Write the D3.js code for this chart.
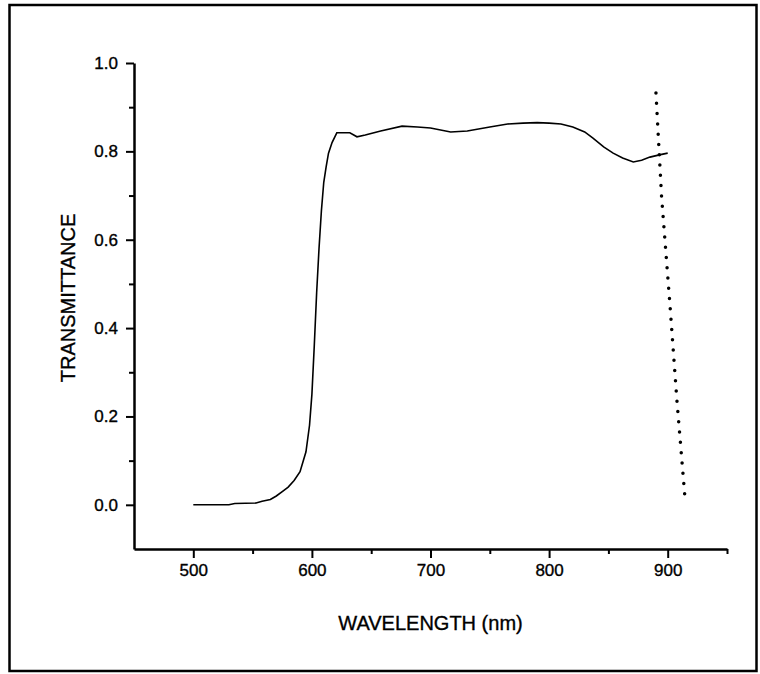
<!DOCTYPE html>
<html>
<head>
<meta charset="utf-8">
<script src="https://cdn.jsdelivr.net/npm/d3@7"></script>
<style>
  body { margin: 0; background: #fff; }
  svg text { font-family: "Liberation Sans", Arial, sans-serif; fill: #000; stroke: #000; stroke-width: 0.35; }
  .axis path, .axis line { stroke: #000; }
</style>
</head>
<body>
<div id="chart"></div>
<script>
// measured transmittance (solid)
const wavelength = [500, 530, 535, 553, 558, 565, 570, 575, 580, 585, 590, 595, 598, 600, 602, 604, 606, 608, 610, 612, 614, 617, 621, 632, 638, 645, 658, 676, 689, 700, 717, 731, 750, 765, 778, 790, 800, 810, 820, 830, 837, 846, 854, 862, 871, 878, 885, 893, 900];
const transmittance = [0.000, 0.000, 0.003, 0.004, 0.008, 0.012, 0.020, 0.030, 0.040, 0.055, 0.075, 0.120, 0.180, 0.250, 0.360, 0.480, 0.580, 0.665, 0.730, 0.765, 0.796, 0.820, 0.842, 0.842, 0.833, 0.837, 0.846, 0.857, 0.855, 0.853, 0.844, 0.846, 0.855, 0.862, 0.864, 0.865, 0.864, 0.862, 0.855, 0.844, 0.830, 0.810, 0.796, 0.785, 0.776, 0.780, 0.787, 0.792, 0.796];

// dotted trace
const dotWavelength = [890.1, 894.8, 902.1, 907.8, 915.0];
const dotValue = [0.932, 0.699, 0.445, 0.235, 0.002];

const xMajor = [500, 600, 700, 800, 900];
const xMinor = [550, 650, 750, 850, 950];
const yMajor = [0.0, 0.2, 0.4, 0.6, 0.8, 1.0];
const yMinor = [0.1, 0.3, 0.5, 0.7, 0.9];

const W = 760, H = 674;
const margin = {top: 63, right: 33, bottom: 125, left: 134};
const width = W - margin.left - margin.right;
const height = H - margin.top - margin.bottom;

const svg = d3.select("#chart").append("svg")
  .attr("width", W)
  .attr("height", H);

// outer frame
svg.append("rect")
  .attr("x", 9.5).attr("y", 5)
  .attr("width", 747).attr("height", 666)
  .attr("fill", "none")
  .attr("stroke", "#000")
  .attr("stroke-width", 2.5);

const g = svg.append("g")
  .attr("transform", "translate(" + margin.left + "," + margin.top + ")");

const x = d3.scaleLinear().domain([450, 950]).range([0, width]);
const y = d3.scaleLinear().domain([-0.1, 1.0]).range([height, 0]);

// minor ticks
g.append("g")
  .attr("class", "axis")
  .attr("transform", "translate(0," + height + ")")
  .call(d3.axisBottom(x).tickValues(xMinor).tickSize(5).tickFormat(""))
  .call(s => s.select(".domain").remove())
  .selectAll("line").attr("stroke-width", 2);

g.append("g")
  .attr("class", "axis")
  .call(d3.axisLeft(y).tickValues(yMinor).tickSize(5).tickFormat(""))
  .call(s => s.select(".domain").remove())
  .selectAll("line").attr("stroke-width", 2);

// major axes
const xAxis = g.append("g")
  .attr("class", "axis")
  .attr("transform", "translate(0," + height + ")")
  .call(d3.axisBottom(x).tickValues(xMajor).tickSize(9).tickSizeOuter(0).tickPadding(6));

const yAxis = g.append("g")
  .attr("class", "axis")
  .call(d3.axisLeft(y).tickValues(yMajor).tickSize(8).tickSizeOuter(0).tickPadding(8).tickFormat(d3.format(".1f")));

[xAxis, yAxis].forEach(a => {
  a.select(".domain").attr("stroke-width", 2.5);
  a.selectAll("line").attr("stroke-width", 2);
  a.selectAll("text").attr("font-size", 17);
});

// solid curve
const line = d3.line()
  .x((d, i) => x(wavelength[i]))
  .y((d, i) => y(transmittance[i]));

g.append("path")
  .datum(transmittance)
  .attr("d", line)
  .attr("fill", "none")
  .attr("stroke", "#000")
  .attr("stroke-width", 1.6);

// dotted curve
const dotLine = d3.line()
  .x((d, i) => x(dotWavelength[i]))
  .y((d, i) => y(dotValue[i]));

g.append("path")
  .datum(dotValue)
  .attr("d", dotLine)
  .attr("fill", "none")
  .attr("stroke", "#000")
  .attr("stroke-width", 3.5)
  .attr("stroke-linecap", "round")
  .attr("stroke-dasharray", "0,10.3");

// axis titles
svg.append("text")
  .attr("transform", "translate(75,298) rotate(-90)")
  .attr("text-anchor", "middle")
  .attr("font-size", 20)
  .text("TRANSMITTANCE");

svg.append("text")
  .attr("x", margin.left + width / 2)
  .attr("y", 630)
  .attr("text-anchor", "middle")
  .attr("font-size", 20)
  .text("WAVELENGTH (nm)");
</script>
</body>
</html>
